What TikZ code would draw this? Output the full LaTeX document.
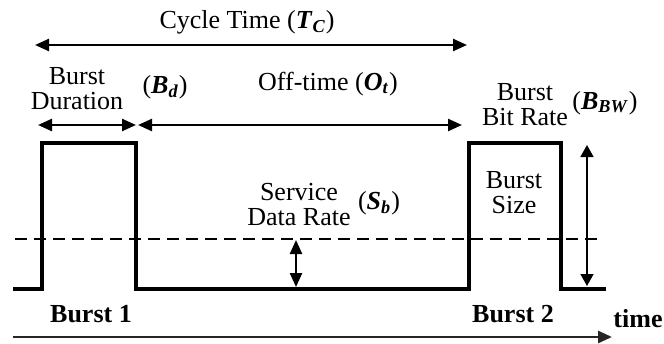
\documentclass[tikz,border=0pt]{standalone}
\usepackage{fontspec}
\setmainfont{Liberation Serif}
\usepackage{tikz}
\usetikzlibrary{arrows.meta}
\newcommand{\bsym}[2]{\textbf{\textit{#1}}\textsubscript{\textbf{\textit{#2}}}}
\tikzset{
  lbl/.style   = {align=center, inner sep=1pt, font=\fontsize{13}{12.5}\selectfont},
  blbl/.style  = {lbl, font=\fontsize{13}{12.5}\selectfont\bfseries},
  wave/.style  = {line width=1.6pt, line join=miter, line cap=rect},
  rate/.style  = {line width=1pt, dashed, dash pattern=on 6pt off 3.5pt},
  span/.style  = {{Triangle[length=7pt,width=6pt]}-{Triangle[length=7pt,width=6pt]}, line width=1.2pt},
  thin/.style  = {{Triangle[length=6pt,width=6.5pt]}-{Triangle[length=6pt,width=6.5pt]}, line width=0.8pt},
  axis/.style  = {-{Triangle[length=7pt,width=6pt]}, line width=1.4pt, draw=black!85},
}

\begin{document}
\begin{tikzpicture}[x=0.5pt, y=-0.5pt]
\useasboundingbox (0,0) rectangle (664,343);

% signal
\coordinate (s0) at (15,289);  \coordinate (s1) at (42,289);
\coordinate (s2) at (42,143);  \coordinate (s3) at (136,143);
\coordinate (s4) at (136,289); \coordinate (s5) at (469,289);
\coordinate (s6) at (469,143); \coordinate (s7) at (561,143);
\coordinate (s8) at (561,289); \coordinate (s9) at (604,289);
\draw[wave] (s0) -- (s1) -- (s2) -- (s3) -- (s4) -- (s5) -- (s6) -- (s7) -- (s8) -- (s9);

% service rate level
\coordinate (r0) at (15,239); \coordinate (r1) at (600,239);
\draw[rate] (r0) -- (r1);

% spans
\coordinate (ctl) at (35,45);   \coordinate (ctr) at (467,45);
\coordinate (bdl) at (38,125);  \coordinate (bdr) at (136,125);
\coordinate (otl) at (138,125); \coordinate (otr) at (462,125);
\coordinate (sbt) at (296,240); \coordinate (sbb) at (296,287);
\coordinate (bst) at (587,145); \coordinate (bsb) at (587,286);
\coordinate (t0) at (13,337);   \coordinate (t1) at (612,337);
\draw[span] (ctl) -- (ctr);
\draw[span] (bdl) -- (bdr);
\draw[span] (otl) -- (otr);
\draw[span] (sbt) -- (sbb);
\draw[thin] (bst) -- (bsb);
\draw[axis] (t0) -- (t1);

% labels
\node[lbl] (ct) at (247,22) {Cycle Time (\bsym{T}{C})};
\node[lbl] (bd) at (77,89) {Burst\\Duration};
\node[lbl] (bds) at (165,87) {(\bsym{B}{d})};
\node[lbl] (ot) at (328,84) {Off-time (\bsym{O}{t})};
\node[lbl] (br) at (525,105) {Burst\\Bit Rate};
\node[lbl] (brs) at (605,103) {(\bsym{B}{BW})};
\node[lbl] (sd) at (299,205) {Service\\Data Rate};
\node[lbl] (sds) at (379,203) {(\bsym{S}{b})};
\node[lbl] (bs) at (514,193) {Burst\\Size};
\node[blbl] (b1) at (91,314) {Burst 1};
\node[blbl] (b2) at (513,314) {Burst 2};
\node[blbl] (tm) at (638,319) {time};
\end{tikzpicture}
\end{document}
